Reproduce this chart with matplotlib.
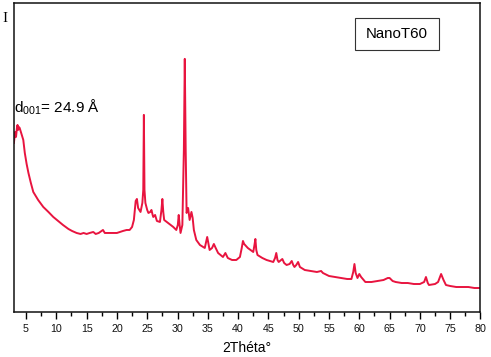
import matplotlib
matplotlib.use("Agg")
import matplotlib.pyplot as plt
from matplotlib.ticker import MultipleLocator
from matplotlib.patches import Rectangle

plt.rcParams['font.family'] = ['Liberation Sans', 'DejaVu Sans']
plt.rcParams['mathtext.default'] = 'regular'

two_theta = [3.0, 3.2, 3.35, 3.5, 3.6, 3.7, 3.8, 3.95, 4.2, 4.55, 4.8, 5.1, 5.4, 5.8, 6.2,
             7.0, 7.85, 8.7, 9.5, 10.3, 11.1, 12.0, 12.6, 13.35, 14.0, 14.5, 15.0, 15.5,
             16.1, 16.5, 17.0, 17.7, 18.0, 18.8, 19.5, 20.0, 20.5, 21.0, 21.6, 22.1, 22.5,
             22.8, 23.1, 23.3, 23.5, 23.9, 24.2, 24.35, 24.45, 24.55, 24.7, 25.0, 25.2,
             25.5, 25.7, 25.9, 26.0, 26.3, 26.6, 27.1, 27.35, 27.5, 27.65, 27.8, 28.45,
             28.9, 29.3, 29.8, 30.05, 30.2, 30.35, 30.5, 30.8, 31.05, 31.2, 31.35, 31.5,
             31.75, 32.0, 32.3, 32.5, 32.7, 33.1, 33.7, 34.5, 34.9, 35.3, 35.7, 36.0,
             36.3, 36.7, 37.5, 37.9, 38.3, 39.0, 39.7, 40.3, 40.6, 40.8, 41.0, 41.6,
             42.5, 42.7, 42.85, 43.0, 43.2, 44.0, 44.7, 45.8, 46.1, 46.3, 46.5, 46.7,
             47.3, 47.6, 48.0, 48.5, 48.85, 49.1, 49.3, 49.6, 49.9, 50.2, 51.0, 52.0,
             53.0, 53.7, 54.0, 55.0, 56.0, 57.0, 58.0, 58.7, 59.0, 59.2, 59.4, 59.7,
             60.0, 60.3, 61.0, 62.0, 63.0, 64.0, 64.7, 65.0, 65.5, 66.0, 67.0, 68.0,
             69.0, 70.0, 70.7, 71.0, 71.3, 71.5, 72.5, 73.0, 73.5, 73.9, 74.3, 75.0,
             76.0, 77.0, 78.0, 79.0, 80.0]
pixel_row = [143, 132, 137, 128, 125, 130, 127, 128, 133, 140, 153, 164, 173, 183, 192,
             200, 207, 212, 217, 221, 225, 229, 231, 233, 234, 233, 234, 233,
             232, 234, 233, 230, 233, 233, 233, 233, 232, 231, 230, 230, 227,
             220, 201, 199, 208, 212, 203, 190, 115, 190, 203, 210, 213,
             212, 210, 215, 217, 215, 221, 222, 210, 199, 212, 220, 223,
             225, 227, 230, 225, 215, 225, 233, 225, 150, 59, 150, 213,
             208, 220, 212, 218, 230, 240, 245, 248, 237, 250, 248, 244,
             248, 253, 257, 253, 258, 260, 260, 257, 248, 241, 244, 248,
             252, 245, 239, 250, 255, 258, 260, 262, 258, 253, 260, 262,
             259, 263, 265, 264, 261, 265, 267, 265, 262, 267, 270, 271,
             272, 271, 273, 276, 277, 278, 279, 279, 272, 264, 273, 278,
             274, 277, 282, 282, 281, 280, 278, 278, 281, 282, 283, 283,
             284, 284, 282, 277, 283, 285, 284, 282, 274, 280, 285, 286,
             287, 287, 287, 288, 288]
intensity = [312 - p for p in pixel_row]

xticks = [5, 10, 15, 20, 25, 30, 35, 40, 45, 50, 55, 60, 65, 70, 75, 80]

fig = plt.figure(figsize=(4.91, 3.57), dpi=100)
ax = fig.add_axes([0.0283, 0.126, 0.9503, 0.866])
ax.plot(two_theta, intensity, color='#e8143f', lw=1.4)
ax.set_xlim(3, 80)
ax.set_ylim(0, 309)
ax.set_xticks(xticks)
ax.xaxis.set_minor_locator(MultipleLocator(2.5))
ax.set_yticks([])
ax.tick_params(axis='x', which='major', direction='out', length=5, width=1,
               labelsize=7.7, pad=3.5, labelcolor='#111111')
ax.tick_params(axis='x', which='minor', direction='out', length=3, width=1)
for s in ax.spines.values():
    s.set_linewidth(1.1)
    s.set_color('#111111')

ax.set_xlabel('2Théta°', fontsize=10, labelpad=5.5)
fig.text(5 / 491, 1 - 18.5 / 357, 'I', family=['Liberation Serif'], fontsize=11,
         ha='center', va='center')
ax.text(0.0, 1 - 110 / 309, 'd$_{001}$= 24.9 Å', transform=ax.transAxes,
        fontsize=11, ha='left', va='baseline')
ax.add_patch(Rectangle((0.731, 0.848), 0.18, 0.103, transform=ax.transAxes,
                       fc='white', ec='#333333', lw=0.8, zorder=3))
ax.text(0.821, 0.8997, 'NanoT60', transform=ax.transAxes, fontsize=10.8,
        ha='center', va='center', zorder=4)

fig.savefig('out.png', dpi=100)
